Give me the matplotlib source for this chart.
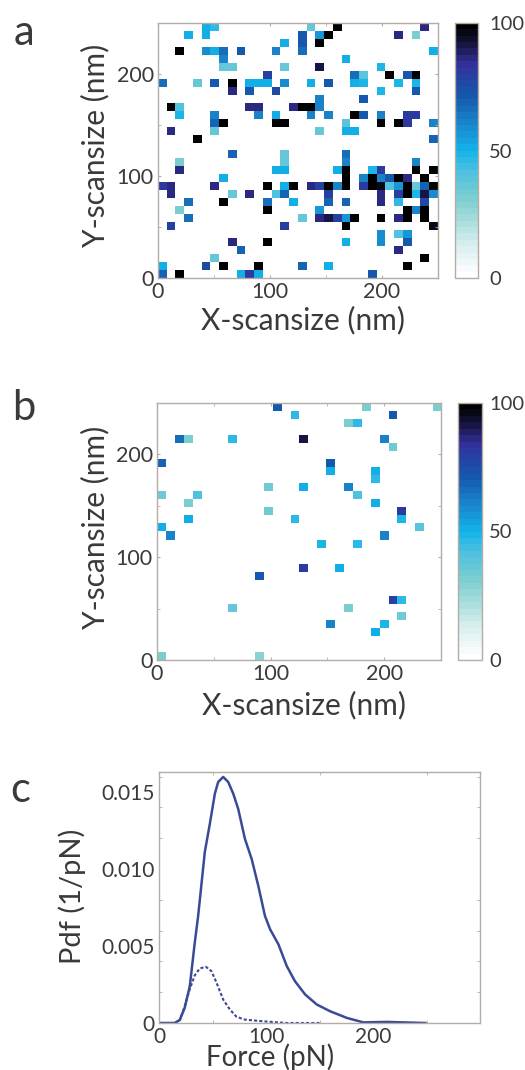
import numpy as np
import matplotlib
matplotlib.use("Agg")
import matplotlib.pyplot as plt
from matplotlib.colors import LinearSegmentedColormap

plt.rcParams["font.family"] = ["Lato", "DejaVu Sans"]

W, H = 525, 1070
TEXT = "#3a3a3a"
EDGE = "#b5aca6"

# one list per map row, top row first
cols_a = [
    [5, 6, 17, 20, 30], [3, 5, 16, 18, 19, 27, 29], [14, 16, 18],
    [2, 5, 6, 7, 9, 13, 16, 31], [7, 21], [7, 8, 14, 18, 25],
    [12, 22, 23, 26, 28, 29],
    [0, 4, 6, 8, 10, 11, 12, 14, 17, 19, 22, 23, 27, 29],
    [8, 10, 13, 25, 29], [18, 23], [1, 2, 10, 11, 15, 16, 17, 18],
    [2, 6, 11, 13, 17, 19, 22, 23, 25, 28, 29],
    [6, 7, 13, 14, 21, 25, 27, 28, 31], [1, 6, 18, 21, 22], [4, 31], [],
    [8, 14, 21], [2, 14, 21, 29],
    [2, 13, 14, 20, 21, 24, 25, 29, 31],
    [7, 21, 23, 24, 25, 26, 27, 28, 30],
    [0, 1, 6, 12, 14, 15, 17, 18, 19, 20, 21, 23, 24, 25, 26, 27, 28, 29, 30, 31],
    [1, 8, 10, 13, 14, 19, 25, 27, 28, 29, 30, 31],
    [3, 7, 12, 15, 19, 21, 25, 27, 30], [2, 12, 18, 28, 29, 30],
    [3, 16, 18, 19, 20, 21, 22, 25, 27, 28, 30], [1, 14, 21, 31],
    [25, 27, 28], [8, 12, 21, 25, 28], [9, 27], [6, 30],
    [0, 5, 7, 11, 16, 19, 28], [0, 2, 9, 10, 11, 24],
]
vals_a = [
    [50, 45, 35, 100, 85], [50, 50, 70, 55, 100, 85, 30], [50, 70, 100],
    [100, 58, 50, 65, 72, 62, 65, 50], [62, 52], [35, 35, 35, 92, 48],
    [78, 65, 38, 100, 70, 100],
    [65, 35, 72, 100, 50, 50, 50, 58, 50, 70, 50, 48, 48, 48],
    [85, 72, 75, 48, 72], [62, 72], [100, 42, 85, 85, 85, 100, 100, 62],
    [48, 62, 60, 52, 62, 60, 100, 70, 62, 82, 82],
    [68, 100, 100, 100, 38, 100, 100, 80, 62], [85, 35, 35, 50, 50], [98, 68], [],
    [68, 35, 65], [32, 35, 62, 62],
    [85, 50, 50, 50, 100, 48, 80, 100, 100],
    [50, 100, 60, 100, 62, 70, 100, 85, 100],
    [80, 85, 85, 100, 52, 100, 85, 78, 100, 60, 100, 80, 100, 95, 40, 55, 100, 35, 68, 100],
    [85, 35, 85, 40, 68, 78, 85, 78, 100, 48, 90, 58],
    [65, 100, 65, 50, 68, 68, 85, 45, 75], [32, 100, 55, 100, 62, 100],
    [65, 35, 85, 92, 78, 55, 100, 100, 85, 100, 100], [78, 78, 98, 95],
    [58, 42, 55], [85, 100, 50, 58, 72], [68, 85], [35, 100],
    [50, 75, 100, 100, 68, 52, 100], [68, 100, 50, 80, 52, 70],
]

cols_b = [
    [13, 23, 31], [15, 26], [21, 22], [], [2, 3, 8, 16, 25], [26], [],
    [0, 19], [19, 24], [24], [12, 16, 21], [0, 4, 22], [3, 24], [12, 27],
    [3, 15, 27], [0, 29], [1, 25], [18, 22], [], [], [16, 20], [11], [], [],
    [26, 27], [8, 21], [27], [19, 25], [24], [], [], [0, 11],
]
vals_b = [
    [72, 32, 32], [45, 70], [32, 45], [], [65, 30, 45, 90, 62], [33], [],
    [68, 70], [52, 50], [45], [33, 52, 62], [33, 40, 40], [32, 52], [33, 82],
    [52, 45, 48], [50, 38], [62, 62], [48, 45], [], [], [80, 50], [72], [], [],
    [78, 45], [35, 32], [33], [62, 48], [50], [], [], [30, 28],
]

force_all = [0, 14.7, 19.4, 24, 28.8, 33.4, 36.6, 39.7, 42.8, 47.5, 52.2, 55.3, 60,
             64.7, 69.4, 74, 80.3, 86.6, 92.8, 99, 103.8, 111.6, 119.4, 127, 136.6,
             147.5, 160, 175.6, 191, 213, 249]
pdf_all = [0, 0, 0.0002, 0.00098, 0.0024, 0.0052, 0.00696, 0.00902, 0.0111, 0.01293,
           0.01489, 0.01565, 0.01598, 0.01565, 0.01489, 0.01391, 0.01196, 0.01065,
           0.00891, 0.00696, 0.00609, 0.00511, 0.0037, 0.00272, 0.00185, 0.0012,
           0.00076, 0.00033, 0.00004, 0.00007, 0]
force_part = [0, 14.7, 19.4, 24, 28.8, 33.4, 38, 43.8, 49, 53.8, 60, 66.3, 72.5, 80.3,
              97.5, 119.4, 150.6]
pdf_part = [0, 0, 0.00017, 0.00109, 0.0022, 0.00309, 0.00354, 0.00365, 0.00337, 0.00261,
            0.00152, 0.00087, 0.0004, 0.00022, 0.00011, 0, 0]

map_ticks = [0, 100, 200]
bar_ticks = [0, 50, 100]
pdf_labels = [0, 0.005, 0.010, 0.015]
pdf_label_text = ["0", "0.005", "0.010", "0.015"]
force_labels = [0, 100, 200]

cmap = LinearSegmentedColormap.from_list(
    "force",
    [(0.0, "#ffffff"), (0.12, "#d8eeee"), (0.3, "#7fcfcf"), (0.42, "#4cc0e0"),
     (0.5, "#12b4ea"), (0.62, "#1a80c8"), (0.72, "#1558ac"), (0.85, "#33309a"),
     (0.93, "#14143c"), (1.0, "#000000")],
    N=40,
)


def px_axes(fig, left, top, right, bottom):
    return fig.add_axes([left / W, 1 - bottom / H, (right - left) / W, (bottom - top) / H])


def style_frame(ax):
    for spine in ax.spines.values():
        spine.set_color(EDGE)
        spine.set_linewidth(1.0)


def put_text(fig, x, y, text, size, **kwargs):
    fig.text(x / W, 1 - y / H, text, fontsize=size, color=TEXT, ha="center", va="center", **kwargs)


def draw_map(fig, cols, vals, box, bar_box, bar_pad):
    grid = np.zeros((32, 32))
    for row, (row_cols, row_vals) in enumerate(zip(cols, vals)):
        for col, val in zip(row_cols, row_vals):
            grid[row, col] = val

    ax = px_axes(fig, *box)
    im = ax.imshow(grid, cmap=cmap, vmin=0, vmax=100, extent=(0, 250, 0, 250),
                   origin="upper", aspect="auto", interpolation="nearest")
    ax.set_xticks(map_ticks)
    ax.set_yticks(map_ticks)
    ax.set_xticks(np.arange(0, 251, 50), minor=True)
    ax.set_yticks(np.arange(0, 251, 50), minor=True)
    ax.tick_params(which="both", direction="in", length=2, color=EDGE, top=True, right=True,
                   labelsize=15.5, labelcolor=TEXT, pad=3)
    style_frame(ax)

    cax = px_axes(fig, *bar_box)
    bar = fig.colorbar(im, cax=cax, ticks=bar_ticks)
    bar.ax.tick_params(length=0, labelsize=14.5, labelcolor=TEXT, pad=bar_pad)
    bar.outline.set_edgecolor(EDGE)
    bar.outline.set_linewidth(1.0)


fig = plt.figure(figsize=(W / 100, H / 100), dpi=100, facecolor="white")

draw_map(fig, cols_a, vals_a, (158, 23, 438, 278), (455, 23, 478, 278), 8)
draw_map(fig, cols_b, vals_b, (157, 403, 441, 660), (458, 403, 482, 660), 5)

ax = px_axes(fig, 159, 772, 480, 1023)
ax.plot(force_all, pdf_all, color="#3a4a96", lw=1.8)
ax.plot(force_part, pdf_part, color="#3a4a96", lw=1.5, ls=(0, (1.5, 1)))
ax.set_xlim(0, 300)
ax.set_ylim(0, 0.0163)
ax.set_xticks(force_labels)
ax.set_yticks(pdf_labels)
ax.set_yticklabels(pdf_label_text)
ax.set_xticks(np.arange(0, 301, 50), minor=True)
ax.set_yticks(np.arange(0, 0.0163, 0.002), minor=True)
ax.tick_params(which="major", length=0, labelsize=15, labelcolor=TEXT, pad=3)
ax.tick_params(which="minor", direction="in", length=2, color=EDGE, top=True, right=True)
style_frame(ax)

put_text(fig, 24, 33, "a", 30)
put_text(fig, 24, 408, "b", 30)
put_text(fig, 20, 790, "c", 30)

put_text(fig, 303, 320, "X-scansize (nm)", 21.5)
put_text(fig, 95, 145, "Y-scansize (nm)", 21.5, rotation=90)
put_text(fig, 304, 705, "X-scansize (nm)", 21.5)
put_text(fig, 95, 527, "Y-scansize (nm)", 21.5, rotation=90)
put_text(fig, 270, 1057, "Force (pN)", 20)
put_text(fig, 72, 896, "Pdf (1/pN)", 21, rotation=90)

fig.savefig("out.png", dpi=100)
plt.close(fig)
